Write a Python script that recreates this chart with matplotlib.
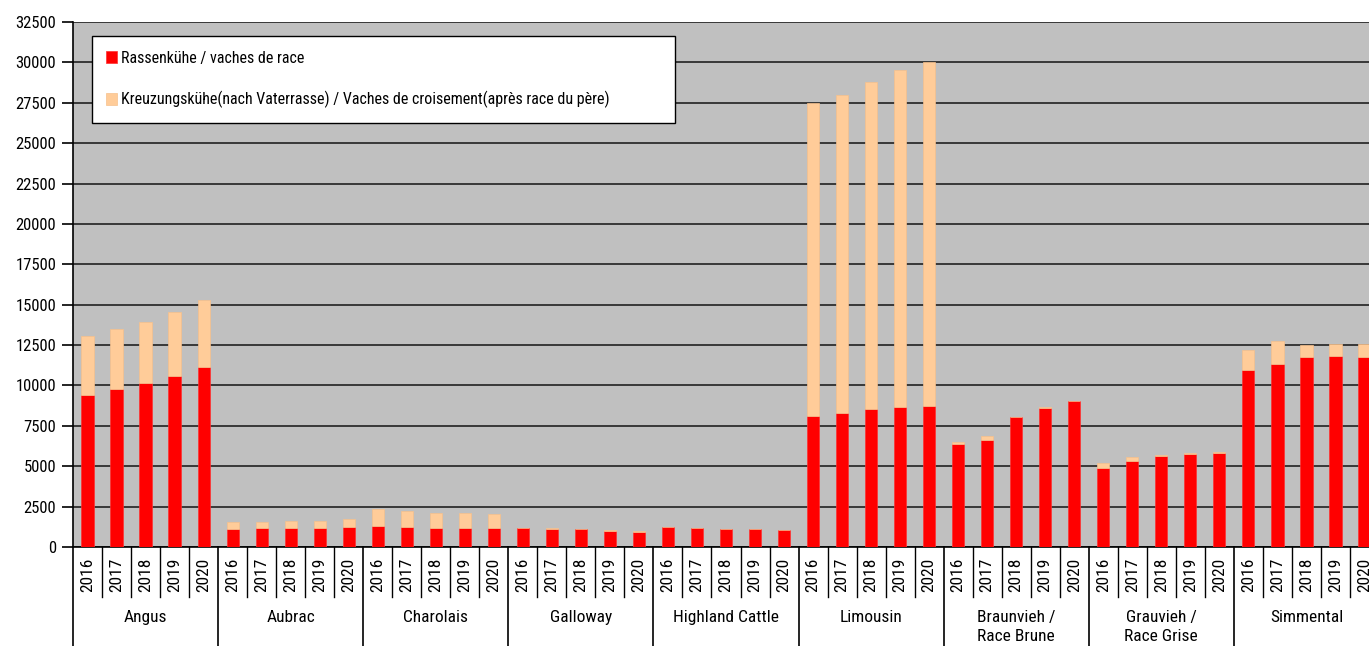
import matplotlib
matplotlib.use("Agg")
import matplotlib.pyplot as plt
from matplotlib import font_manager
import numpy as np

# ---- data ----
breeds = ["Angus", "Aubrac", "Charolais", "Galloway", "Highland Cattle", "Limousin",
          "Braunvieh /\nRace Brune", "Grauvieh /\nRace Grise", "Simmental"]
years = ["2016", "2017", "2018", "2019", "2020"]
purebred = [
    [9410, 9760, 10150, 10600, 11140],   # Angus
    [1115, 1155, 1195, 1195, 1240],      # Aubrac
    [1300, 1255, 1195, 1195, 1195],      # Charolais
    [1155, 1135, 1120, 1010, 950],       # Galloway
    [1240, 1195, 1135, 1095, 1050],      # Highland Cattle
    [8090, 8315, 8540, 8685, 8750],      # Limousin
    [6375, 6620, 8030, 8625, 9040],      # Braunvieh
    [4890, 5320, 5650, 5775, 5840],      # Grauvieh
    [10935, 11330, 11760, 11800, 11780], # Simmental
]
total = [
    [13080, 13475, 13930, 14550, 15290],
    [1530, 1550, 1590, 1630, 1715],
    [2350, 2230, 2125, 2085, 2040],
    [1175, 1150, 1140, 1025, 960],
    [1250, 1205, 1145, 1105, 1060],
    [27465, 28000, 28800, 29530, 30040],
    [6500, 6870, 8070, 8665, 9060],
    [5180, 5570, 5670, 5800, 5880],
    [12175, 12750, 12505, 12585, 12585],
]
label_pure = "Rassenkühe / vaches de race"
label_cross = "Kreuzungskühe(nach Vaterrasse) / Vaches de croisement(après race du père)"

# ---- font ----
avail = {f.name for f in font_manager.fontManager.ttflist}
fam = None
for cand in ["Liberation Sans Narrow", "Roboto Condensed", "Open Sans Condensed", "Liberation Sans", "DejaVu Sans"]:
    if cand in avail:
        fam = cand
        break
plt.rcParams['font.family'] = [fam, 'DejaVu Sans']

pure = np.array(purebred, dtype=float).ravel()
tot = np.array(total, dtype=float).ravel()
cross = tot - pure
n = len(pure)
x = np.arange(n)

W, H = 1369, 646
fig = plt.figure(figsize=(W / 100, H / 100), dpi=100)
ax = fig.add_axes([73 / W, 99 / H, 1306 / W, 525 / H])
ax.set_facecolor("#C0C0C0")

ax.set_ylim(0, 32500)
ax.set_xlim(-0.5, n - 0.5)
ax.set_yticks(np.arange(0, 32501, 2500))
ax.yaxis.grid(True, color="#383838", linewidth=1.4)
ax.set_axisbelow(True)

bw = 0.42
ax.bar(x, pure, width=bw, color="#FF0000", edgecolor="#FF3030", linewidth=0.5, label=label_pure, zorder=3)
ax.bar(x, cross, width=bw, bottom=pure, color="#FFCC99", edgecolor="#F5C08C", linewidth=0.5, label=label_cross, zorder=3)

for s in ["top", "right"]:
    ax.spines[s].set_visible(False)
ax.spines["left"].set_color("black")
ax.spines["left"].set_linewidth(1.2)
ax.spines["bottom"].set_color("black")
ax.spines["bottom"].set_linewidth(1.2)
ax.tick_params(axis="y", length=8, width=1.2, labelsize=12, pad=4, colors="black")

ax.set_xticks(x)
ax.set_xticklabels(years * len(breeds), rotation=90, fontsize=12.5)
ax.tick_params(axis="x", length=0, pad=8)

tr = ax.get_xaxis_transform()
for i in range(n + 1):
    xb = i - 0.5
    if i % 5 == 0:
        ax.plot([xb, xb], [0, -0.19], transform=tr, color="black", lw=1.2, clip_on=False)
    else:
        ax.plot([xb, xb], [0, -0.095], transform=tr, color="black", lw=1.0, clip_on=False)

for g, name in enumerate(breeds):
    ax.text(g * 5 + 2, -0.12, name, transform=tr, ha="center", va="top",
            fontsize=12.5, linespacing=1.35)

leg = ax.legend(loc="upper left", bbox_to_anchor=(0.0145, 0.823, 0.4465, 0.15), mode="expand",
                frameon=True, fancybox=False, edgecolor="black", fontsize=11.5, framealpha=1.0,
                handlelength=0.7, handleheight=0.7, handletextpad=0.2,
                labelspacing=1.6, borderpad=0.9, borderaxespad=0)
leg.get_frame().set_linewidth(1.0)
leg.get_frame().set_facecolor("white")
leg.set_zorder(5)

fig.savefig("out.png", dpi=100)
